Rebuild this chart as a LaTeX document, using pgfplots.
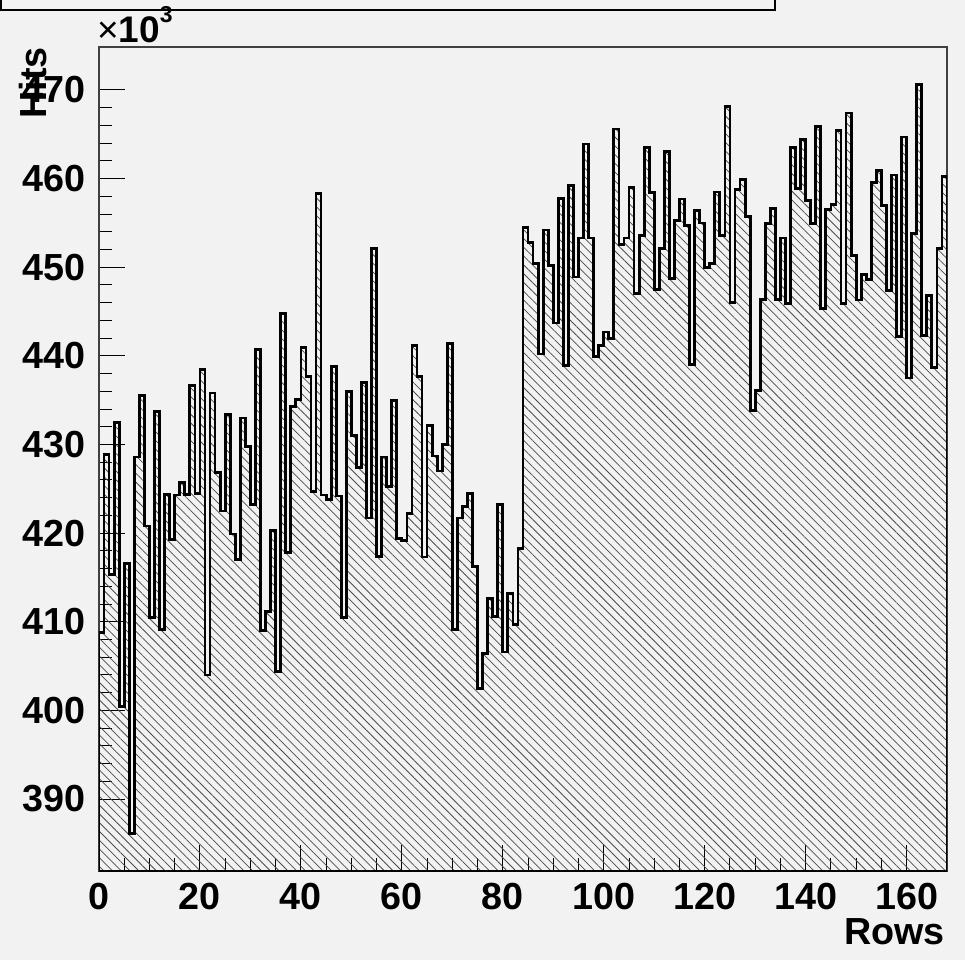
\documentclass[border=0pt]{standalone}
\usepackage{fontspec}
\setmainfont{Liberation Sans}
\usepackage{pgfplots}
\pgfplotsset{compat=1.18}
\usepackage{pgfplotstable}
\usetikzlibrary{patterns.meta}

\definecolor{canvasgray}{HTML}{F2F2F2}
\newcommand\rootfont{\fontsize{37.7bp}{40bp}\selectfont\bfseries}

% hits per row, in units of 10^3 (last row repeated to close the step line)
\pgfplotstableread{
row hits
0 408.8
1 428.9
2 415.3
3 432.5
4 400.4
5 416.6
6 386.1
7 428.6
8 435.5
9 420.8
10 410.5
11 433.7
12 409.1
13 424.4
14 419.3
15 424.3
16 425.7
17 424.4
18 436.7
19 424.5
20 438.5
21 404.0
22 435.8
23 426.8
24 422.5
25 433.4
26 419.9
27 417.0
28 433.0
29 429.8
30 423.2
31 440.7
32 409.0
33 411.2
34 420.3
35 404.4
36 444.8
37 417.8
38 434.3
39 435.1
40 440.9
41 437.7
42 424.7
43 458.3
44 424.3
45 423.8
46 438.8
47 424.2
48 410.5
49 436.0
50 431.0
51 427.4
52 437.0
53 421.7
54 452.1
55 417.4
56 428.6
57 425.3
58 435.0
59 419.4
60 419.2
61 422.2
62 441.2
63 437.7
64 417.3
65 432.1
66 428.7
67 427.0
68 430.0
69 441.4
70 409.1
71 421.7
72 423.0
73 424.5
74 416.2
75 402.5
76 406.4
77 412.6
78 410.6
79 423.2
80 406.6
81 413.2
82 409.7
83 418.3
84 454.5
85 452.8
86 450.4
87 440.2
88 454.2
89 450.2
90 443.7
91 457.8
92 438.9
93 459.2
94 448.9
95 453.3
96 463.9
97 453.3
98 439.9
99 441.2
100 442.7
101 442.0
102 465.6
103 452.6
104 453.3
105 459.0
106 447.0
107 453.6
108 463.5
109 458.4
110 447.5
111 452.1
112 463.1
113 448.7
114 455.3
115 457.7
116 454.7
117 439.0
118 456.4
119 455.0
120 450.0
121 450.4
122 458.5
123 453.6
124 468.1
125 446.0
126 458.8
127 459.9
128 455.7
129 433.8
130 436.1
131 446.4
132 454.9
133 456.6
134 446.4
135 453.3
136 445.9
137 463.5
138 458.9
139 464.4
140 457.5
141 454.9
142 465.9
143 445.3
144 456.5
145 457.1
146 465.4
147 445.9
148 467.4
149 451.3
150 446.3
151 449.2
152 448.6
153 459.6
154 460.9
155 457.0
156 447.4
157 460.4
158 442.2
159 464.7
160 437.5
161 453.8
162 470.6
163 442.3
164 446.8
165 438.7
166 452.1
167 460.2
168 460.2
}\rowhits

\begin{document}
\begin{tikzpicture}
% canvas
\fill[canvasgray] (-99bp,-89bp) rectangle (866bp,871bp);

\begin{axis}[
  at={(0bp,0bp)}, anchor=south west,
  scale only axis, width=848bp, height=824bp,
  xmin=0, xmax=168, ymin=381.88, ymax=474.85,
  xtick={0,20,...,160}, minor x tick num=3,
  ytick={390,400,...,470}, minor y tick num=4,
  tick pos=left, tick align=inside,
  major tick length=26bp, minor tick length=13bp,
  every tick/.style={black, line width=1bp},
  axis line style={black!75, line width=1.3bp},
  axis background/.style={fill=canvasgray},
  tick label style={font=\rootfont},
  /pgf/number format/assume math mode=true,
  scaled y ticks=false,
  yticklabel style={inner sep=0pt, xshift=-13bp},
  xticklabel style={inner sep=0pt, yshift=-12bp},
]
\addplot[const plot, draw=black, line width=2.8bp,
  pattern={Lines[angle=-45, distance=6.2bp, line width=0.75bp]},
  pattern color=black!70]
  table[x=row, y=hits] {\rowhits} \closedcycle;
\end{axis}

% axis scale factor
\node[anchor=base west, inner sep=0pt] at (-2bp,828bp)
  {\fontsize{37bp}{39bp}\selectfont ×\textbf{10}\raisebox{20bp}{\fontsize{23bp}{23bp}\selectfont\bfseries 3}};

% axis titles
\node[rotate=90, anchor=base east, inner sep=0pt] at (-52bp,824bp) {\rootfont Hits};
\node[anchor=base east, inner sep=0pt] at (846bp,-73bp) {\rootfont Rows};

% title box (mostly above the canvas)
\draw[black, line width=2bp] (-98bp,861bp) rectangle (676bp,890bp);

\pgfresetboundingbox
\useasboundingbox (-99bp,-89bp) rectangle (866bp,871bp);
\end{tikzpicture}
\end{document}
